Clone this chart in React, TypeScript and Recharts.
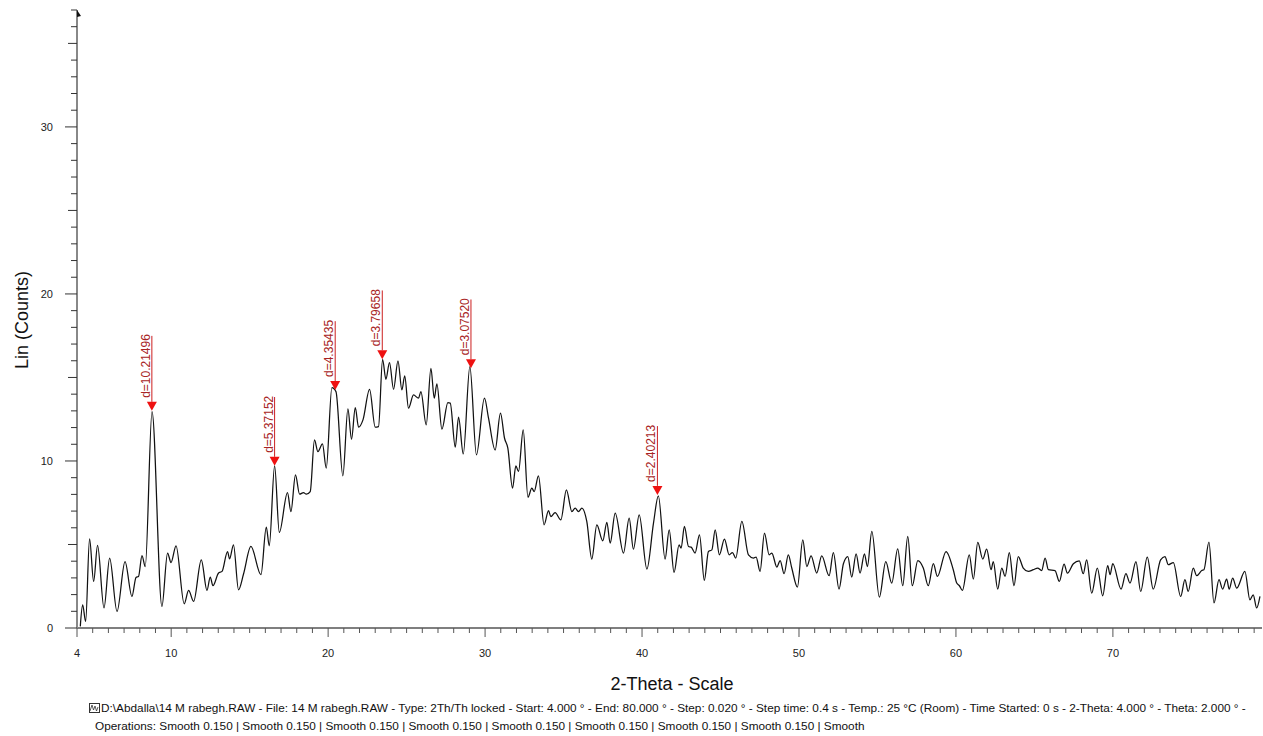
import React from 'react';
import { ComposedChart, Line, XAxis, YAxis, ReferenceDot } from 'recharts';

// 2-theta positions (deg) and smoothed counts
const twoTheta = [
  4.21, 4.36, 4.55, 4.80, 5.06, 5.31, 5.72, 6.08, 6.55, 7.06,
  7.50, 7.76, 7.92, 8.14, 8.35, 8.78, 9.41, 9.77, 9.99, 10.31,
  10.83, 11.11, 11.43, 11.92, 12.28, 12.49, 12.66, 13.02, 13.24, 13.59,
  13.72, 13.97, 14.29, 14.61, 15.08, 15.72, 16.06, 16.25, 16.59, 16.89,
  17.41, 17.63, 17.92, 18.18, 18.43, 18.61, 18.86, 19.13, 19.35, 19.64,
  19.88, 20.24, 20.50, 20.94, 21.26, 21.49, 21.73, 21.94, 22.22, 22.64,
  23.00, 23.21, 23.47, 23.68, 23.91, 24.17, 24.45, 24.70, 24.88, 25.12,
  25.44, 25.76, 25.91, 26.25, 26.55, 26.76, 26.93, 27.25, 27.63, 27.78,
  28.10, 28.31, 28.61, 29.03, 29.45, 29.96, 30.22, 30.64, 30.98, 31.24,
  31.45, 31.75, 31.96, 32.13, 32.43, 32.73, 32.98, 33.13, 33.40, 33.76,
  34.04, 34.19, 34.46, 34.83, 35.18, 35.53, 35.74, 35.95, 36.17, 36.48,
  36.80, 37.12, 37.50, 37.76, 37.97, 38.29, 38.82, 39.18, 39.45, 39.82,
  40.31, 40.73, 41.04, 41.47, 41.73, 42.04, 42.36, 42.49, 42.70, 42.96,
  43.13, 43.38, 43.66, 43.97, 44.23, 44.45, 44.66, 44.93, 45.25, 45.55,
  45.76, 45.97, 46.36, 46.78, 47.10, 47.27, 47.52, 47.80, 48.10, 48.27,
  48.59, 48.80, 49.05, 49.32, 49.54, 49.90, 50.24, 50.50, 50.77, 51.13,
  51.45, 51.92, 52.19, 52.55, 52.83, 53.11, 53.36, 53.64, 53.89, 54.17,
  54.36, 54.64, 55.12, 55.53, 55.91, 56.29, 56.61, 56.93, 57.22, 57.57,
  57.92, 58.24, 58.56, 58.82, 59.37, 59.83, 60.05, 60.22, 60.41, 60.85,
  61.11, 61.39, 61.71, 61.96, 62.24, 62.38, 62.66, 62.92, 63.13, 63.40,
  63.70, 63.97, 64.29, 64.61, 64.93, 65.21, 65.46, 65.68, 65.89, 66.31,
  66.59, 66.89, 67.10, 67.48, 67.86, 68.11, 68.33, 68.65, 69.01, 69.35,
  69.67, 69.82, 69.99, 70.52, 70.83, 71.09, 71.47, 71.77, 72.19, 72.57,
  73.04, 73.32, 73.53, 73.85, 74.32, 74.59, 74.80, 75.12, 75.34, 75.66,
  75.80, 76.12, 76.44, 76.76, 76.99, 77.25, 77.41, 77.63, 77.89, 78.41,
  78.73, 78.94, 79.16, 79.37,
];

const counts = [
  0.10, 1.39, 0.39, 5.34, 2.79, 4.94, 1.20, 4.19, 0.99, 3.98,
  1.89, 3.03, 3.09, 4.34, 3.68, 12.95, 1.29, 4.49, 3.92, 4.92,
  1.45, 2.25, 1.59, 4.08, 2.25, 3.05, 2.53, 3.29, 3.39, 4.58,
  4.14, 4.98, 2.29, 3.23, 4.88, 3.19, 6.04, 4.92, 9.71, 5.72,
  8.11, 6.97, 9.17, 8.01, 8.11, 8.01, 8.17, 11.26, 10.56, 11.02,
  9.57, 14.39, 14.15, 9.11, 13.12, 11.30, 13.19, 12.02, 12.46, 14.29,
  12.02, 12.06, 16.09, 14.89, 15.89, 14.29, 16.00, 14.25, 15.09, 13.16,
  13.95, 13.76, 14.15, 12.16, 15.55, 13.76, 14.61, 11.90, 13.49, 13.46,
  10.83, 12.62, 10.42, 15.65, 10.37, 13.76, 12.56, 10.66, 12.86, 11.36,
  10.77, 8.37, 9.71, 9.37, 11.86, 7.83, 8.37, 8.17, 9.11, 6.18,
  7.03, 6.67, 6.91, 6.48, 8.27, 6.97, 7.18, 6.97, 7.18, 6.38,
  4.13, 6.18, 5.22, 6.32, 5.08, 6.88, 4.49, 6.58, 4.72, 6.78,
  3.53, 6.28, 7.91, 4.13, 5.88, 3.33, 4.98, 4.78, 6.08, 4.88,
  4.84, 4.49, 5.58, 2.85, 4.58, 4.68, 5.88, 4.38, 5.32, 4.38,
  4.52, 4.19, 6.38, 4.38, 4.19, 4.25, 3.39, 5.68, 4.38, 4.49,
  3.65, 4.04, 3.25, 4.38, 3.59, 2.45, 5.28, 3.68, 4.32, 3.29,
  4.32, 3.13, 4.52, 2.33, 3.85, 4.28, 3.05, 4.44, 3.29, 4.44,
  3.68, 5.78, 1.85, 3.98, 2.69, 4.74, 2.53, 5.48, 2.53, 4.04,
  3.59, 2.53, 3.85, 3.09, 4.58, 3.49, 2.69, 2.53, 2.25, 4.38,
  2.93, 5.12, 4.13, 4.72, 3.49, 3.98, 2.33, 3.59, 3.09, 4.52,
  2.53, 4.28, 3.59, 3.39, 3.49, 3.59, 3.44, 4.19, 3.49, 3.44,
  2.79, 3.83, 3.29, 3.85, 4.02, 3.25, 4.08, 2.09, 3.59, 1.93,
  3.73, 3.19, 3.85, 2.33, 3.25, 2.69, 3.98, 2.19, 4.25, 2.33,
  4.08, 4.28, 3.79, 3.92, 1.89, 2.89, 2.19, 3.59, 3.13, 3.44,
  3.49, 5.14, 1.50, 2.89, 2.33, 2.93, 2.33, 2.99, 2.39, 3.39,
  1.69, 1.99, 1.20, 1.89,
];

// marked peaks (d-spacing labels)
const peakTheta = [8.77, 16.59, 20.45, 23.45, 29.1, 40.98];
const peakCounts = [13.0, 9.71, 14.25, 16.09, 15.55, 7.97];
const peakLabels = ['d=10.21496', 'd=5.37152', 'd=4.35435', 'd=3.79658', 'd=3.07520', 'd=2.40213'];

const xLabelTicks = [4, 10, 20, 30, 40, 50, 60, 70];
const yLabelTicks = [0, 10, 20, 30];

const scan = twoTheta.map((t, i) => ({ t, c: counts[i] }));
const xTicks = Array.from({ length: 76 }, (_, i) => 4 + i);
const yTicks = Array.from({ length: 38 }, (_, i) => i);

const FONT = '"Liberation Sans", Arial, sans-serif';

const XTick = (props: any) => {
  const { x, y, payload } = props;
  const v = payload.value;
  const major = v % 10 === 0 || v === 4;
  return (
    <g>
      <line x1={x} x2={x} y1={y} y2={y + (major ? 9 : 5)} stroke="#555" strokeWidth={1} />
      {xLabelTicks.includes(v) && (
        <text x={x} y={y + 29} textAnchor="middle" fontSize={11} fill="#222" fontFamily={FONT}>
          {v}
        </text>
      )}
    </g>
  );
};

const YTick = (props: any) => {
  const { x, y, payload } = props;
  const v = payload.value;
  const len = v % 10 === 0 ? 12 : v % 5 === 0 ? 9 : 6;
  return (
    <g>
      <line x1={x - len} x2={x} y1={y} y2={y} stroke="#333" strokeWidth={1} />
      {yLabelTicks.includes(v) && (
        <text x={x - 24} y={y + 4} textAnchor="end" fontSize={11} fill="#222" fontFamily={FONT}>
          {v}
        </text>
      )}
    </g>
  );
};

// red arrow with rotated d-value, tip sits on the peak
const PeakMarker = ({ cx, cy, text }: any) => {
  const top = cy - 9;
  const len = text.length * 6.2 + 4;
  return (
    <g>
      <line x1={cx} x2={cx} y1={top - len} y2={top} stroke="#cc1f1f" strokeWidth={1} />
      <path d={`M${cx - 5},${top} L${cx + 5},${top} L${cx},${cy} Z`} fill="#ee1111" />
      <text
        transform={`translate(${cx - 2},${top - 4}) rotate(-90)`}
        fontSize={12}
        fill="#a82424"
        fontFamily={FONT}
      >
        {text}
      </text>
    </g>
  );
};

const AxisArrow = ({ cx, cy }: any) => (
  <path d={`M${cx},${cy} L${cx + 4},${cy + 6} L${cx},${cy + 7} Z`} fill="#111" />
);

export default function App() {
  return (
    <div style={{ position: 'absolute', left: 0, top: 0, width: 1263, height: 736, background: '#fff', fontFamily: FONT }}>
      <ComposedChart width={1263} height={736} data={scan} margin={{ top: 10, right: 1, bottom: 0, left: 0 }}>
        <XAxis
          type="number"
          dataKey="t"
          domain={[4, 79.5]}
          allowDataOverflow
          ticks={xTicks}
          interval={0}
          tick={<XTick />}
          tickLine={false}
          tickSize={0}
          tickMargin={0}
          height={108}
          axisLine={{ stroke: '#555', strokeWidth: 1.5 }}
        />
        <YAxis
          type="number"
          domain={[0, 37]}
          allowDataOverflow
          ticks={yTicks}
          interval={0}
          tick={<YTick />}
          tickLine={false}
          tickSize={0}
          tickMargin={0}
          width={77}
          axisLine={{ stroke: '#888', strokeWidth: 2 }}
        />
        <Line
          type="monotone"
          dataKey="c"
          stroke="#111"
          strokeWidth={1.25}
          dot={false}
          activeDot={false}
          isAnimationActive={false}
        />
        <ReferenceDot x={4} y={37} r={0} ifOverflow="visible" shape={(p: any) => <AxisArrow {...p} />} />
        {peakTheta.map((t, i) => (
          <ReferenceDot
            key={peakLabels[i]}
            x={t}
            y={peakCounts[i]}
            r={0}
            ifOverflow="visible"
            shape={(p: any) => <PeakMarker cx={p.cx} cy={p.cy} text={peakLabels[i]} />}
          />
        ))}
      </ComposedChart>

      <div
        style={{
          position: 'absolute',
          left: 22,
          top: 320,
          transform: 'translate(-50%, -50%) rotate(-90deg)',
          fontSize: 18,
          color: '#111',
          whiteSpace: 'nowrap',
        }}
      >
        Lin (Counts)
      </div>
      <div
        style={{
          position: 'absolute',
          left: 672,
          top: 684,
          transform: 'translate(-50%, -50%)',
          fontSize: 18,
          color: '#111',
          whiteSpace: 'nowrap',
        }}
      >
        2-Theta - Scale
      </div>
      <div style={{ position: 'absolute', left: 89, top: 699, fontSize: 11.8, lineHeight: '18px', color: '#111', whiteSpace: 'nowrap' }}>
        <div>
          <svg width={11} height={10} style={{ verticalAlign: '-1px', marginRight: 1 }}>
            <rect x={0.5} y={0.5} width={10} height={9} fill="none" stroke="#333" />
            <path d="M1,8 L3,2 L4.5,7 L6,3 L7.5,8 L9,4" fill="none" stroke="#333" strokeWidth={0.8} />
          </svg>
          {'D:\\Abdalla\\14 M rabegh.RAW - File: 14 M rabegh.RAW - Type: 2Th/Th locked - Start: 4.000 ° - End: 80.000 ° - Step: 0.020 ° - Step time: 0.4 s - Temp.: 25 °C (Room) - Time Started: 0 s - 2-Theta: 4.000 ° - Theta: 2.000 ° -'}
        </div>
        <div style={{ paddingLeft: 6 }}>
          Operations: Smooth 0.150 | Smooth 0.150 | Smooth 0.150 | Smooth 0.150 | Smooth 0.150 | Smooth 0.150 | Smooth 0.150 | Smooth 0.150 | Smooth
        </div>
      </div>
    </div>
  );
}
